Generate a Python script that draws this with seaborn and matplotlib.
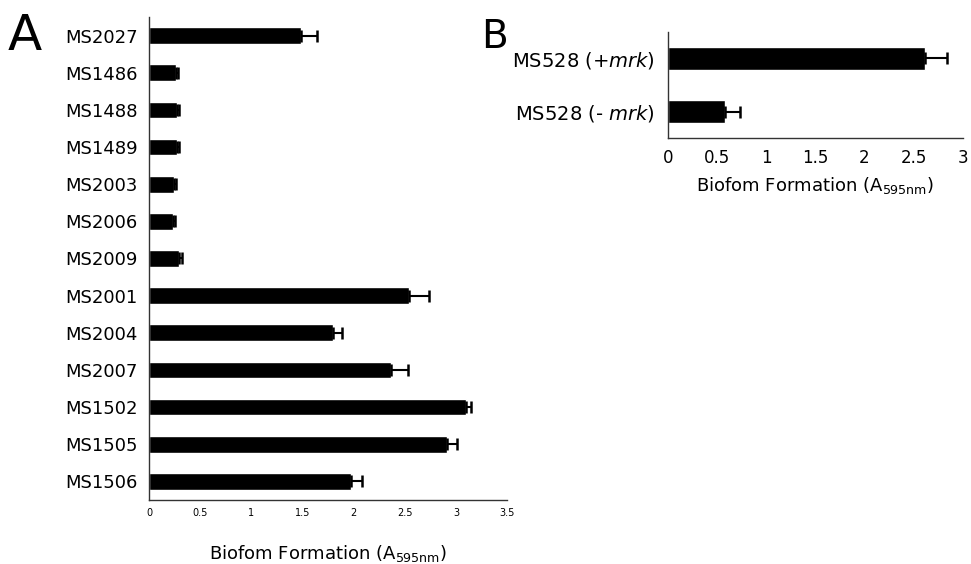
import numpy as np
import pandas as pd
import matplotlib
matplotlib.use('Agg')
import matplotlib.pyplot as plt
import seaborn as sns

# Panel A data
strains_a = ['MS2027', 'MS1486', 'MS1488', 'MS1489', 'MS2003', 'MS2006', 'MS2009',
             'MS2001', 'MS2004', 'MS2007', 'MS1502', 'MS1505', 'MS1506']
biofilm_a = [1.49, 0.26, 0.27, 0.27, 0.24, 0.23, 0.29, 2.54, 1.80, 2.37, 3.10, 2.91, 1.97]
err_a = [0.15, 0.02, 0.02, 0.02, 0.02, 0.02, 0.03, 0.20, 0.09, 0.16, 0.05, 0.10, 0.11]

# Panel B data
strains_b = ['MS528 (+$\\it{mrk}$)', 'MS528 (- $\\it{mrk}$)']
biofilm_b = [2.62, 0.58]
err_b = [0.22, 0.16]

xlabel = 'Biofom Formation (A$_{\\mathregular{595nm}}$)'

sns.set_style('white')
plt.rcParams['font.family'] = ['DejaVu Sans']
plt.rcParams['mathtext.default'] = 'regular'
plt.rcParams['text.color'] = 'black'
plt.rcParams['axes.labelcolor'] = 'black'
plt.rcParams['xtick.color'] = 'black'
plt.rcParams['ytick.color'] = 'black'

fig = plt.figure(figsize=(9.71, 5.64), dpi=100)
ax_a = fig.add_axes([0.1535, 0.1135, 0.3687, 0.8564])
ax_b = fig.add_axes([0.6876, 0.7553, 0.3040, 0.1880])

def draw_panel(ax, names, vals, errs, width):
    df = pd.DataFrame({'strain': names, 'value': vals})
    sns.barplot(data=df, x='value', y='strain', color='black', orient='h',
                width=width, saturation=1, errorbar=None, ax=ax)
    pos = np.arange(len(names))
    ax.errorbar(vals, pos, xerr=[np.zeros(len(errs)), errs], fmt='none',
                ecolor='black', elinewidth=1.5, capsize=4, capthick=1.8)
    for s in ['top', 'right']:
        ax.spines[s].set_visible(False)
    for s in ['left', 'bottom']:
        ax.spines[s].set_color('#333333')
        ax.spines[s].set_linewidth(1.0)
    ax.set_ylabel('')
    ax.set_ylim(len(names) - 0.5, -0.5)
    ax.tick_params(axis='y', length=0)

# Panel A
draw_panel(ax_a, strains_a, biofilm_a, err_a, 0.45)
ax_a.set_xlim(0, 3.5)
ax_a.set_xticks([0, 0.5, 1, 1.5, 2, 2.5, 3, 3.5])
ax_a.set_xticklabels(['0', '0.5', '1', '1.5', '2', '2.5', '3', '3.5'])
ax_a.tick_params(axis='x', direction='in', length=3, labelsize=7, pad=6)
ax_a.tick_params(axis='y', labelsize=13, pad=8)
ax_a.set_xlabel(xlabel, fontsize=13, labelpad=18)

# Panel B
draw_panel(ax_b, strains_b, biofilm_b, err_b, 0.43)
ax_b.set_xlim(0, 3)
ax_b.set_xticks([0, 0.5, 1, 1.5, 2, 2.5, 3])
ax_b.set_xticklabels(['0', '0.5', '1', '1.5', '2', '2.5', '3'])
ax_b.tick_params(axis='x', direction='out', length=3, labelsize=12, pad=5)
ax_b.tick_params(axis='y', labelsize=14, pad=9)
ax_b.set_xlabel(xlabel, fontsize=13, labelpad=6)

# Panel letters
fig.text(0.008, 0.978, 'A', fontsize=36, va='top', ha='left')
fig.text(0.496, 0.968, 'B', fontsize=28, va='top', ha='left')

plt.savefig('out.png', dpi=100)
